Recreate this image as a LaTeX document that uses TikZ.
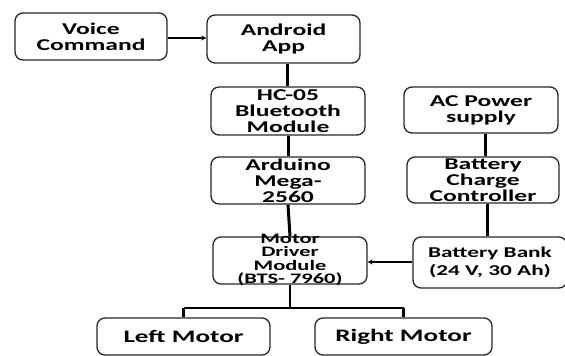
\documentclass[tikz,border=0pt]{standalone}
\usepackage{fontspec}
\setmainfont[FakeStretch=1.55,BoldFont={Carlito Bold},BoldFeatures={FakeStretch=1.55}]{Carlito}
\usetikzlibrary{arrows.meta}
\begin{document}
\begin{tikzpicture}[x=1pt,y=-1pt,
  box/.style={draw=black!85,line width=1.3pt,rounded corners=8pt,align=center,
    inner sep=0pt,font=\fontsize{16.5}{16}\selectfont\bfseries},
  thick link/.style={line width=3pt,black},
  thin link/.style={line width=1.6pt,black},
  arr/.style={line width=1.6pt,-{Stealth[length=5pt,width=5pt]}}]
\useasboundingbox (0,0) rectangle (565,356);
\node[box,minimum width=152pt,minimum height=47pt] (voice) at (91,36.5) {Voice\\Command};
\node[box,minimum width=153pt,minimum height=48pt] (android) at (283.5,39) {Android\\App};
\node[box,minimum width=154pt,minimum height=48pt] (hc) at (288,111) {HC-05\\Bluetooth\\Module};
\node[box,minimum width=154pt,minimum height=47pt] (ard) at (288,180.5) {Arduino\\Mega-\\2560};
\node[box,minimum width=154pt,minimum height=47pt] (mot) at (290,260.5) {};
\node[align=center,inner sep=0pt,font=\fontsize{14.5}{13.5}\selectfont\bfseries] (motlbl) at (290,260) {Motor\\Driver\\Module\\(BTS- 7960)};
\node[box,minimum width=154pt,minimum height=46pt] (ac) at (481,110) {AC Power\\supply};
\node[box,minimum width=152pt,minimum height=46pt] (chg) at (483,180) {Battery\\Charge\\Controller};
\node[box,minimum width=154pt,minimum height=51pt,font=\fontsize{15}{18}\selectfont\bfseries] (bat) at (490,262.5) {Battery Bank\\(24 V, 30 Ah)};
\node[box,minimum width=173pt,minimum height=37pt,font=\fontsize{17.5}{17}\selectfont\bfseries] (left) at (183.5,336.5) {Left Motor};
\node[box,minimum width=177pt,minimum height=37pt,font=\fontsize{17.5}{17}\selectfont\bfseries] (right) at (403.5,336.5) {Right Motor};
\coordinate (j) at (290,308);
\draw[arr] (voice.east |- 0,38) -- (android.west |- 0,38);
\draw[thick link] (android.south -| 287,0) -- (hc.north -| 287,0);
\draw[thick link] (hc.south) -- (ard.north);
\draw[thick link] (ard.south) -- (mot.north);
\draw[thick link] (ac.south -| 485,0) -- (chg.north -| 485,0);
\draw[thick link] (chg.south -| 487,0) -- (bat.north -| 487,0);
\draw[arr] (bat.west |- 0,262) -- (mot.east |- 0,262);
\draw[thin link] (mot.south) -- (j);
\draw[thin link] (left.north |- j) -- (right.north |- j);
\draw[thick link] (left.north |- j) -- (left.north);
\draw[thick link] (right.north |- j) -- (right.north);
\end{tikzpicture}
\end{document}
